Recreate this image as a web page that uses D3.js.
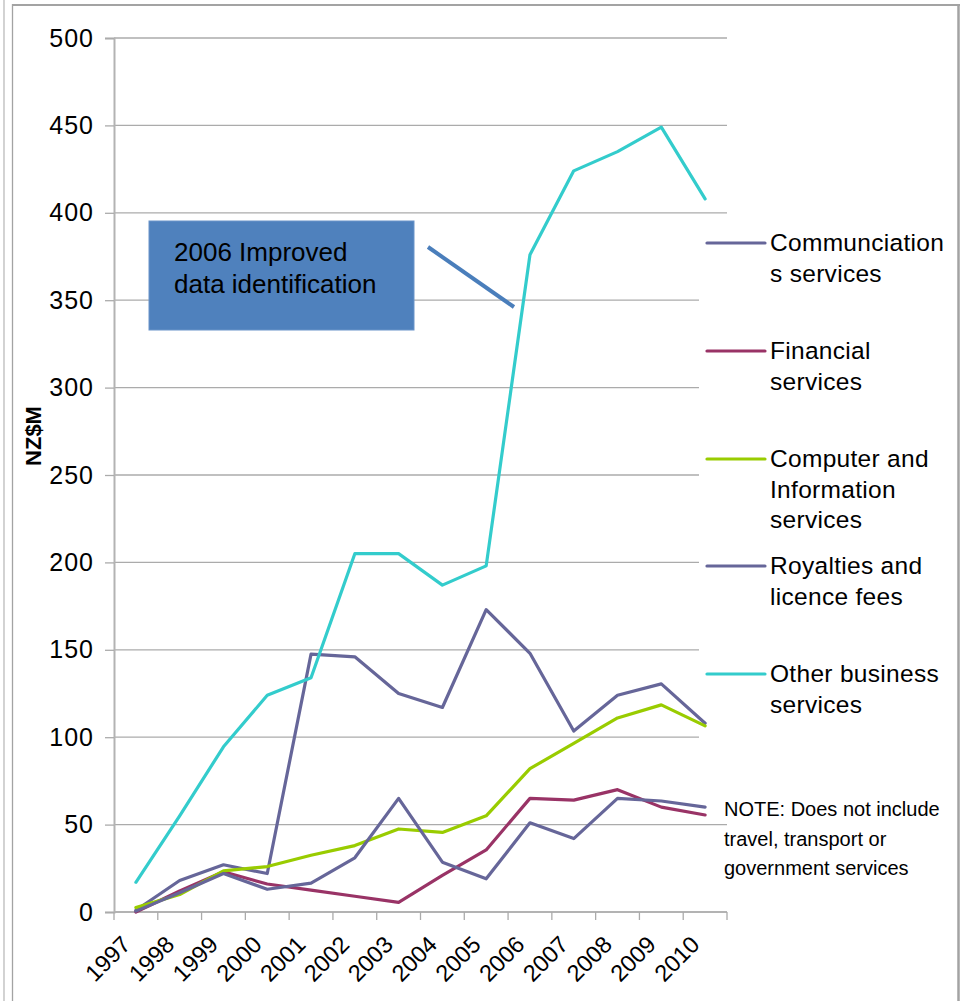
<!DOCTYPE html>
<html>
<head>
<meta charset="utf-8">
<script src="https://cdn.jsdelivr.net/npm/d3@7"></script>
<style>
  html, body { margin: 0; padding: 0; background: #fff; }
  svg { display: block; font-family: "Liberation Sans", Arial, sans-serif; }
</style>
</head>
<body>
<svg id="chart" width="961" height="1001"></svg>
<script>
// ---- Data ----
const years = ["1997","1998","1999","2000","2001","2002","2003","2004","2005","2006","2007","2008","2009","2010"];
const communications = [1, 18, 27, 22, 147.5, 146, 125, 117, 173, 148, 103.5, 124, 130.5, 108];
const financial      = [0, 12, 23, 16, 12.5, 9, 5.5, 21, 35.5, 65, 64, 70, 60, 55.5];
const computerInfo   = [2.5, 10, 23.5, 26, 32.5, 38, 47.5, 45.5, 55, 82, 96.5, 111, 118.5, 106.5];
const royalties      = [0.5, 11, 22, 13, 16.5, 31, 65, 28.5, 19, 51, 42, 65, 63.5, 60];
const otherBusiness  = [17, 55, 94.5, 124, 134, 205, 205, 187, 198, 376, 424, 435, 449, 408];
const yTicks = [0, 50, 100, 150, 200, 250, 300, 350, 400, 450, 500];
const seriesNames = [["Communciation", "s services"], ["Financial", "services"], ["Computer and", "Information", "services"], ["Royalties and", "licence fees"], ["Other business", "services"]];
const seriesColors = ["#666699", "#993366", "#99cc00", "#666699", "#33cccc"];
const noteLines = ["NOTE: Does not include", "travel, transport or", "government services"];
const calloutLines = ["2006 Improved", "data identification"];
const yTitle = "NZ$M";

const series = [communications, financial, computerInfo, royalties, otherBusiness];

// ---- Layout ----
const svg = d3.select("#chart");
const plot = { left: 114, right: 727, top: 38, bottom: 912 };

const x = d3.scaleBand().domain(years).range([plot.left, plot.right]).paddingInner(0).paddingOuter(0);
const y = d3.scaleLinear().domain([0, 500]).range([plot.bottom, plot.top]);
const cx = d => x(d) + x.bandwidth() / 2;

// ---- Frame ----
const frameColor = "#a3a3a3";
svg.append("line").attr("x1", 4).attr("x2", 4).attr("y1", 0).attr("y2", 1001).attr("stroke", "#b5b5b5").attr("stroke-width", 1.2);
svg.append("line").attr("x1", 12.5).attr("x2", 12.5).attr("y1", 4).attr("y2", 1001).attr("stroke", frameColor).attr("stroke-width", 1.3);
svg.append("line").attr("x1", 12).attr("x2", 960).attr("y1", 5).attr("y2", 5).attr("stroke", frameColor).attr("stroke-width", 2);
svg.append("line").attr("x1", 958.5).attr("x2", 958.5).attr("y1", 4).attr("y2", 1001).attr("stroke", frameColor).attr("stroke-width", 2.5);

// ---- Gridlines ----
svg.append("g").selectAll("line").data(yTicks.filter(v => v > 0)).join("line")
  .attr("x1", plot.left).attr("x2", plot.right)
  .attr("y1", d => y(d)).attr("y2", d => y(d))
  .attr("stroke", "#ababab").attr("stroke-width", 1.3);

// ---- Legend background (covers gridlines, under series) ----
svg.append("rect").attr("x", 699).attr("y", 218).attr("width", 256).attr("height", 527).attr("fill", "#fff");

// ---- Y axis ----
const yAxis = d3.axisLeft(y).tickValues(yTicks).tickSize(9).tickPadding(11).tickFormat(d3.format("d"));
const gy = svg.append("g").attr("transform", `translate(${plot.left},0)`).call(yAxis);
gy.select(".domain").attr("stroke", "#b3b3b3").attr("stroke-width", 2);
gy.selectAll(".tick line").attr("stroke", "#ababab").attr("stroke-width", 1.3);
gy.selectAll(".tick text").attr("font-size", 25).attr("letter-spacing", 1).attr("fill", "#000")
  .attr("font-family", "'Liberation Sans', Arial, sans-serif");

// ---- X axis ----
svg.append("line").attr("x1", plot.left).attr("x2", plot.right).attr("y1", plot.bottom).attr("y2", plot.bottom)
  .attr("stroke", "#b3b3b3").attr("stroke-width", 2);
const boundaries = years.map(d => x(d)).concat([x(years[years.length - 1]) + x.bandwidth()]);
svg.append("g").selectAll("line").data(boundaries).join("line")
  .attr("x1", d => d).attr("x2", d => d).attr("y1", plot.bottom).attr("y2", plot.bottom + 8)
  .attr("stroke", "#ababab").attr("stroke-width", 1.3);
svg.append("g").selectAll("text").data(years).join("text")
  .attr("transform", d => `translate(${cx(d) - 4},946) rotate(-45)`)
  .attr("text-anchor", "end").attr("font-size", 23.5).attr("fill", "#000")
  .text(d => d);

// ---- Y title ----
svg.append("text").attr("transform", "translate(33,436) rotate(-90)")
  .attr("text-anchor", "middle").attr("dominant-baseline", "central")
  .attr("font-size", 22).attr("font-weight", "bold").attr("fill", "#000").text(yTitle);

// ---- Series lines ----
const line = d3.line().x((v, i) => cx(years[i])).y(v => y(v));
svg.append("g").selectAll("path").data(series).join("path")
  .attr("d", d => line(d)).attr("fill", "none")
  .attr("stroke", (d, i) => seriesColors[i]).attr("stroke-width", 3.2)
  .attr("stroke-linejoin", "round").attr("stroke-linecap", "round");

// ---- Legend ----
const legendLineY = [243, 351, 459, 566, 674];
const lg = svg.append("g");
seriesNames.forEach((lines, i) => {
  const ly = legendLineY[i];
  lg.append("line").attr("x1", 707).attr("x2", 765).attr("y1", ly).attr("y2", ly)
    .attr("stroke", seriesColors[i]).attr("stroke-width", 3.2).attr("stroke-linecap", "round");
  lg.append("g").selectAll("text").data(lines).join("text")
    .attr("x", 770).attr("y", (t, j) => ly + 8 + j * 30.5)
    .attr("font-size", 24.5).attr("letter-spacing", 0.3).attr("fill", "#000").text(t => t);
});

// ---- Note ----
svg.append("g").selectAll("text").data(noteLines).join("text")
  .attr("x", 724).attr("y", (t, j) => 816 + j * 29.5)
  .attr("font-size", 20).attr("fill", "#000").text(t => t);

// ---- Callout ----
svg.append("line").attr("x1", 428).attr("y1", 247).attr("x2", 514).attr("y2", 307)
  .attr("stroke", "#4a7ebb").attr("stroke-width", 4);
svg.append("rect").attr("x", 149).attr("y", 221).attr("width", 265).attr("height", 109)
  .attr("fill", "#4f81bd").attr("stroke", "#6a94c9").attr("stroke-width", 1);
svg.append("g").selectAll("text").data(calloutLines).join("text")
  .attr("x", 174).attr("y", (t, j) => 261 + j * 31.5)
  .attr("font-size", 26).attr("fill", "#000").text(t => t);
</script>
</body>
</html>
